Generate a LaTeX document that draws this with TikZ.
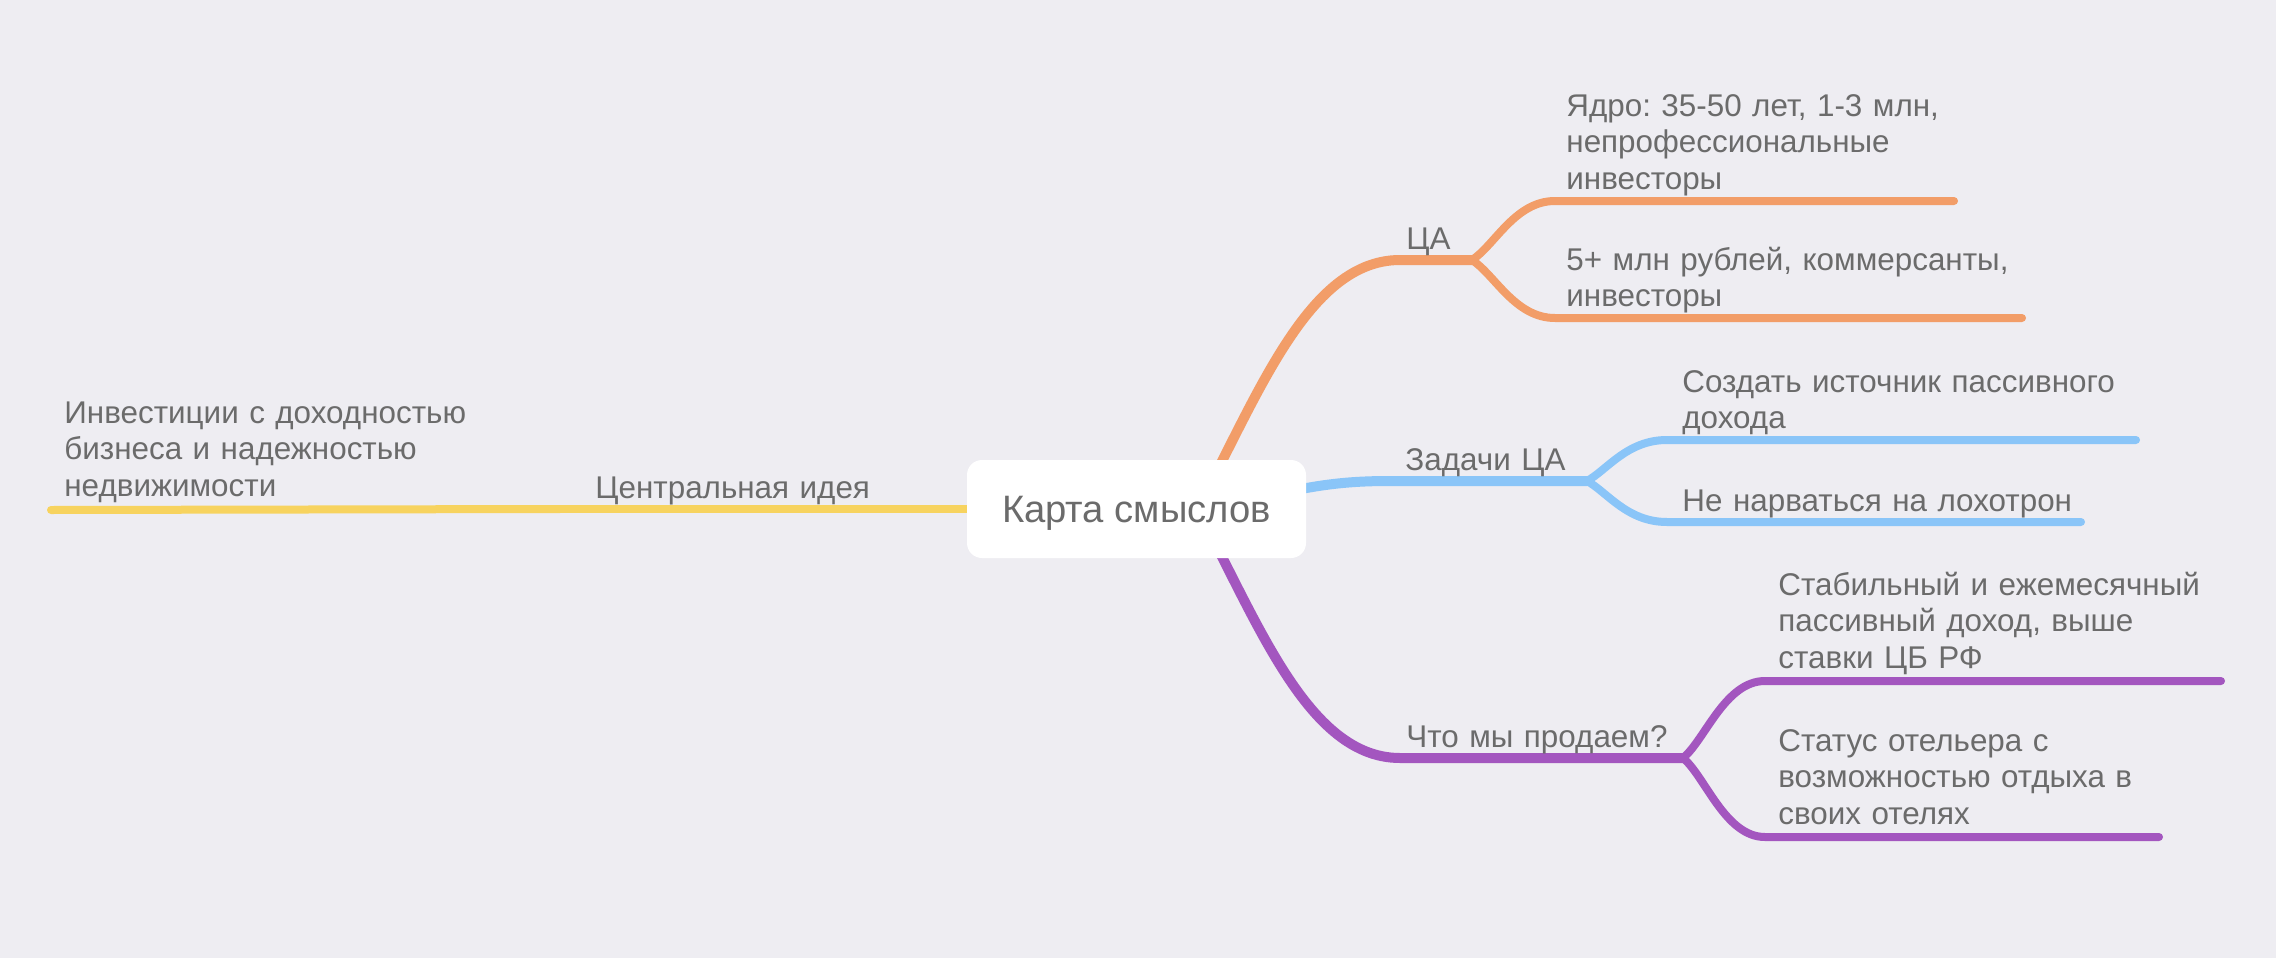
\documentclass[tikz,border=0pt]{standalone}
\usepackage{fontspec}
\setmainfont{Liberation Sans}
\frenchspacing
\definecolor{bg}{HTML}{EEEDF2}
\definecolor{txt}{HTML}{6B6B6B}
\definecolor{corange}{HTML}{F29D68}
\definecolor{cblue}{HTML}{8AC5F8}
\definecolor{cpurple}{HTML}{A356BF}
\definecolor{cyellow}{HTML}{F7D35F}
\begin{document}
\begin{tikzpicture}[x=0.5pt,y=-0.5pt,
  mainline/.style={line width=5pt,line cap=round},
  leafline/.style={line width=4pt,line cap=round},
  lbl/.style={font=\fontsize{15.7pt}{18.35pt}\selectfont\frenchspacing,text=txt,inner sep=0pt,
    anchor=base west,align=left,text width=230pt},
  rootbox/.style={fill=white,rounded corners=7.5pt,minimum width=169.5pt,
    minimum height=49pt,inner sep=0pt,text=txt,
    font=\fontsize{19.1pt}{22pt}\selectfont,text height=13.6pt,text depth=0pt}]
\useasboundingbox[fill=bg] (0,0) rectangle (2276,958);

% coordinates
\coordinate (oS) at (1180,540);
\coordinate (oH) at (1400,260);
\coordinate (oF) at (1472,260);
\coordinate (oL1) at (1555,201);
\coordinate (oE1) at (1954,201);
\coordinate (oL2) at (1555,318);
\coordinate (oE2) at (2022,318);

\coordinate (bS) at (1250,500);
\coordinate (bH) at (1390,481);
\coordinate (bF) at (1587,481);
\coordinate (bL1) at (1667,440);
\coordinate (bE1) at (2136,440);
\coordinate (bL2) at (1667,522);
\coordinate (bE2) at (2081,522);

\coordinate (pS) at (1180,478);
\coordinate (pH) at (1400,758);
\coordinate (pF) at (1683,758);
\coordinate (pL1) at (1765,681);
\coordinate (pE1) at (2221,681);
\coordinate (pL2) at (1765,837);
\coordinate (pE2) at (2159,837);

\coordinate (yS) at (1100,509);
\coordinate (yJ) at (560,509);
\coordinate (yE) at (51,510);

% yellow
\draw[mainline,cyellow,line width=4pt] (yS) -- (yJ);
\draw[leafline,cyellow] (yJ) -- (yE);

% orange
\draw[mainline,corange] (oS) .. controls (1250,420) and (1300,260) .. (oH) -- (oF);
\draw[leafline,corange] (oF) .. controls (1495,245) and (1515,201) .. (oL1) -- (oE1);
\draw[leafline,corange] (oF) .. controls (1495,275) and (1515,318) .. (oL2) -- (oE2);

% blue
\draw[mainline,cblue] (bS) .. controls (1310,486) and (1340,481) .. (bH) -- (bF);
\draw[leafline,cblue] (bF) .. controls (1607,470) and (1627,440) .. (bL1) -- (bE1);
\draw[leafline,cblue] (bF) .. controls (1607,492) and (1627,522) .. (bL2) -- (bE2);

% purple
\draw[mainline,cpurple] (pS) .. controls (1250,598) and (1300,758) .. (pH) -- (pF);
\draw[leafline,cpurple] (pF) .. controls (1705,740) and (1725,681) .. (pL1) -- (pE1);
\draw[leafline,cpurple] (pF) .. controls (1705,776) and (1725,837) .. (pL2) -- (pE2);

% root
\node[rootbox] (root) at (1136.5,509) {Карта смыслов};

% labels
\node[lbl] (yl) at (64,423) {Инвестиции с доходностью\\бизнеса и надежностью\\недвижимости};
\node[lbl] (ym) at (595,498) {Центральная идея};

\node[lbl] (om) at (1406,249) {ЦА};
\node[lbl] (o1) at (1566,116) {Ядро: 35-50 лет, 1-3 млн,\\непрофессиональные\\инвесторы};
\node[lbl] (o2) at (1566,270) {5+ млн рублей, коммерсанты,\\инвесторы};

\node[lbl] (bm) at (1405,470) {Задачи ЦА};
\node[lbl] (b1) at (1682,392) {Создать источник пассивного\\дохода};
\node[lbl] (b2) at (1682,511) {Не нарваться на лохотрон};

\node[lbl] (pm) at (1406,747) {Что мы продаем?};
\node[lbl] (p1) at (1778,595) {Стабильный и ежемесячный\\пассивный доход, выше\\ставки ЦБ РФ};
\node[lbl] (p2) at (1778,751) {Статус отельера с\\возможностью отдыха в\\своих отелях};
\end{tikzpicture}
\end{document}
